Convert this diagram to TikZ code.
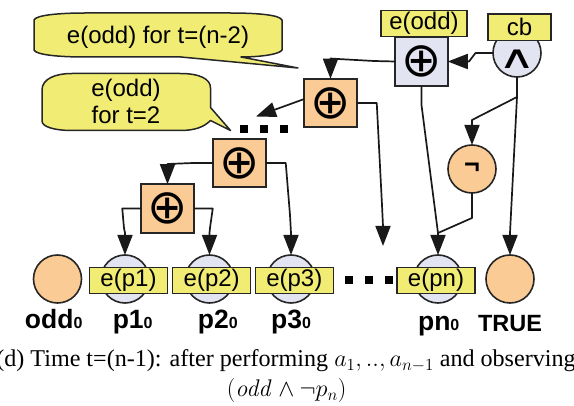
\documentclass[tikz,border=0pt]{standalone}
\usepackage{fix-cm}
\usepackage{graphicx}
\usepackage[no-math]{fontspec}
\setmainfont{Liberation Sans}
\newfontfamily\capfont{Liberation Serif}
\newfontfamily\symfont{DejaVu Sans}
\usetikzlibrary{arrows.meta}
\definecolor{yel}{HTML}{F0EC74}
\definecolor{ora}{HTML}{FBCB96}
\definecolor{lav}{HTML}{E3E4F2}
\newcommand{\fs}[1]{\fontsize{#1}{#1}\selectfont}
\tikzset{
  x=1pt,y=-1pt,
  every node/.style={inner sep=0pt,outer sep=0pt},
  xorbox/.style={draw=black!85,line width=1.6pt,minimum width=52.5pt,minimum height=48.5pt,font=\symfont\fs{48}},
  circ/.style={circle,draw=black!85,line width=1.6pt,minimum size=48pt},
  tag/.style={draw=black!85,fill=yel,line width=1.4pt,font=\fs{24}},
  ptag/.style={tag,minimum width=78pt,minimum height=26.5pt},
  conn/.style={line width=1.7pt,black!90,line join=round},
  arr/.style={conn,-{Triangle[length=20pt,width=15pt]}},
  bubble/.style={draw=black!85,fill=yel,line width=1.5pt,line join=round},
  bold/.style={font=\bfseries\fs{26.5},anchor=base},
  dot/.style={fill=black,minimum size=8pt},
  captext/.style={font=\capfont\fs{24.1},anchor=base,black}
}
\begin{document}
\begin{tikzpicture}
\useasboundingbox[clip] (0,0) rectangle (574,406);
% callouts
\draw[bubble] (34,20) .. controls (36,15) and (60,13) .. (85,13) -- (230,13)
  .. controls (258,13) and (280,15) .. (282,20) -- (282,50)
  .. controls (280,54) and (262,57) .. (241,57) -- (298,68) -- (181,57) -- (85,57)
  .. controls (60,57) and (36,55) .. (34,50) -- cycle;
\draw[bubble] (42,90) .. controls (42,79) and (55,73.5) .. (72,73.5) -- (180,73.5)
  .. controls (200,73.5) and (210.5,79) .. (210.5,88) -- (210.5,107.5) -- (230.5,130.5) -- (210.5,120.5)
  .. controls (204,127) and (195,130.5) .. (180,130.5) -- (72,130.5)
  .. controls (55,130.5) and (42,127) .. (42,121) -- cycle;
\node[font=\fs{24},anchor=base] (c1) at (158,43.5) {e(odd) for t=(n-2)};
\node[font=\fs{24},anchor=base] (c2a) at (126,96.5) {e(odd)};
\node[font=\fs{24},anchor=base] (c2b) at (126,124) {for t=2};
% gates
\node[xorbox,fill=lav] (x1) at (421.5,61.5) {⊕};
\node[xorbox,fill=ora] (x2) at (330.5,103) {⊕};
\node[xorbox,fill=ora] (x3) at (239.5,163) {⊕};
\node[xorbox,fill=ora] (x4) at (167.5,208.5) {⊕};
\node[circ,fill=lav] (and) at (517,53) {};
\node[font=\symfont\fs{32}] (andsym) at (517,59) {\scalebox{1.6}[1]{∧}};
\node[circ,fill=ora] (not) at (472,169) {\raisebox{1pt}{\bfseries\fs{27}¬}};
\node[tag,minimum width=86pt,minimum height=26pt] (todd) at (424,23.7) {e(odd)};
\node[tag,minimum width=63pt,minimum height=26.5pt] (tcb) at (519.5,27.3) {cb};
% variables
\node[circ,fill=ora] (odd) at (57.5,279) {};
\node[circ,fill=lav] (p1) at (125,279) {};
\node[circ,fill=lav] (p2) at (209.5,279) {};
\node[circ,fill=lav] (p3) at (291,279) {};
\node[circ,fill=lav] (pn) at (438,279) {};
\node[circ,fill=ora] (tru) at (510,279) {};
\node[ptag] (e1) at (128.5,280.5) {e(p1)};
\node[ptag] (e2) at (211.7,280.5) {e(p2)};
\node[ptag] (e3) at (294.3,280.5) {e(p3)};
\node[ptag] (en) at (436,280.5) {e(pn)};
% free ends
\coordinate (gap) at (383,246);
\coordinate (dots) at (256,116.5);
% connectors
\draw[arr] (and.west) -- ++(-17.5,0) -- (469,61.5) -- (x1.east);
\draw[arr] (x1.west) -- (374,61) -- (338,59) -- (330.5,58.5) -- (x2.north);
\draw[arr] (x2.west |- 0,99) -- (dots);
\draw[arr] (x2.east) -- ++(20,0) -- (382,205) -- (383,226) -- (gap);
\draw[arr] (x3.west) -- ++(-20,0) -- (167.5,164) -- (x4.north);
\draw[arr] (x3.east) -- ++(20,0) -- (290,215) -- (291,233) -- (p3.north);
\draw[arr] (x4.west) -- ++(-19,0) -- (124,228) -- (125,233) -- (p1.north);
\draw[arr] (x4.east) -- ++(19,0) -- (210,228) -- (209.5,233) -- (p2.north);
\draw[arr] (x1.south) -- (421.5,105) -- (438,233) -- (pn.north);
\draw[conn] (not.south) -- (472,218) -- (438,233);
\draw[conn] (and.south) -- (517,97) -- (472,120) -- (472,125);
\draw[arr] (472,124.5) -- (not.north);
\draw[arr] (517,97) -- (510,233) -- (tru.north);
% dots
\foreach \n/\px/\py in {a/244/128.7,b/264/128.7,c/284/128.7,d/349/280,e/369/280,f/389/280}
  \node[dot] (dot\n) at (\px,\py) {};
% labels
\node[bold] (lodd) at (53.7,329) {odd{\fs{16}0}};
\node[bold] (lp1) at (132.7,329) {p1{\fs{16}0}};
\node[bold] (lp2) at (217.8,329) {p2{\fs{16}0}};
\node[bold] (lp3) at (291,329) {p3{\fs{16}0}};
\node[bold] (lpn) at (438.7,331) {pn{\fs{16}0}};
\node[bold,font=\bfseries\fs{23.5}] (ltrue) at (510,332) {TRUE};
% caption
\node[captext] (cap1) at (286,366.7) {(d) Time t=(n-1): after performing $a_1,..,a_{n-1}$ and observing};
\node[captext] (cap2) at (286.7,397) {$(\mathit{odd}\wedge\neg p_n)$};
\end{tikzpicture}
\end{document}
